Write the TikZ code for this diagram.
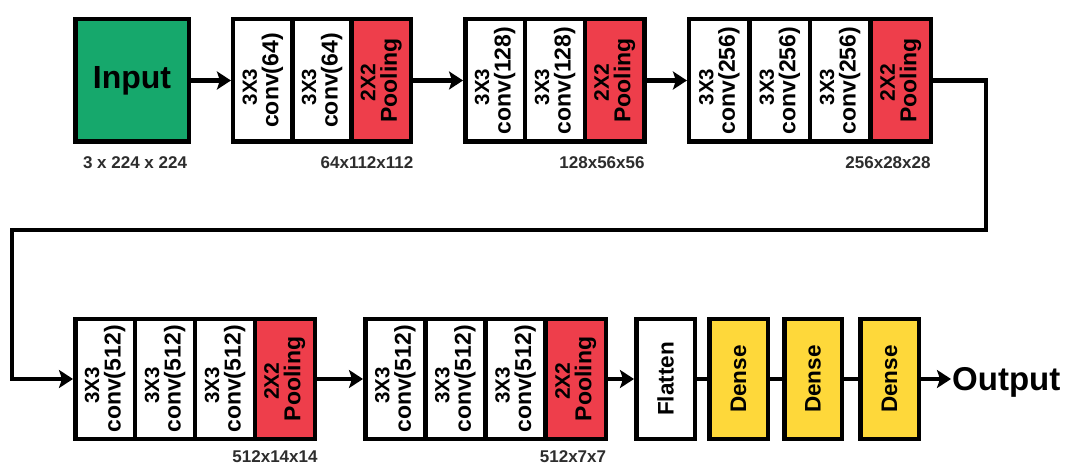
\documentclass[tikz,border=0pt]{standalone}
\usepackage{fontspec}
\setmainfont{Liberation Sans}
\usetikzlibrary{arrows.meta}
\definecolor{ingreen}{RGB}{22,168,108}
\definecolor{poolred}{RGB}{238,62,75}
\definecolor{denseyellow}{RGB}{254,216,58}
\definecolor{labelgray}{RGB}{45,45,45}
\newcommand\vtxt[2]{\rotatebox{90}{\vbox{\bfseries\fontsize{23}{21.5}\selectfont\lineskiplimit=-50pt\halign{\hfil##\hfil\cr #1\cr #2\cr}}}}
\newcommand\vone[1]{\rotatebox{90}{\bfseries\fontsize{22.5}{24}\selectfont #1}}
\newcommand\kk{\fontsize{20.5}{21.5}\selectfont 3X3\hspace{13pt}}
\newcommand\pp{\fontsize{21}{21.5}\selectfont 2X2\hspace{4pt}}
\begin{document}
\begin{tikzpicture}[x=1pt,y=-1pt,
  cell/.style={draw=black,line width=4.5pt,inner sep=0pt,fill=white},
  conv/.style={cell},
  pool/.style={cell,fill=poolred},
  dense/.style={cell,fill=denseyellow},
  toprow/.style={minimum height=122.5pt},
  botrow/.style={minimum height=119.5pt},
  arr/.style={line width=4.5pt,-{Stealth[length=14pt,width=18pt,inset=3pt]}},
  link/.style={line width=4.5pt},
  dimlabel/.style={font=\fontsize{17}{20}\selectfont\bfseries,text=labelgray,inner sep=0pt}]
\useasboundingbox (0,0) rectangle (1071,470);
% input
\node[cell,toprow,fill=ingreen,minimum width=113.5pt,font=\fontsize{32}{36}\selectfont\bfseries] (in) at (132,80.5) {Input};
% block 1
\node[conv,toprow,minimum width=59.2pt] (a1) at (262.8,80.5) {\vtxt{\kk}{conv(64)}};
\node[conv,toprow,minimum width=59.2pt] (a2) at (322,80.5) {\vtxt{\kk}{conv(64)}};
\node[pool,toprow,minimum width=59.2pt] (a3) at (381.2,80.5) {\vtxt{\pp}{Pooling}};
% block 2
\node[conv,toprow,minimum width=59.8pt] (b1) at (495.2,80.5) {\vtxt{\kk}{conv(128)}};
\node[conv,toprow,minimum width=59.8pt] (b2) at (555,80.5) {\vtxt{\kk}{conv(128)}};
\node[pool,toprow,minimum width=59.8pt] (b3) at (614.8,80.5) {\vtxt{\pp}{Pooling}};
% block 3
\node[conv,toprow,minimum width=60.4pt] (c1) at (719.4,80.5) {\vtxt{\kk}{conv(256)}};
\node[conv,toprow,minimum width=60.4pt] (c2) at (779.8,80.5) {\vtxt{\kk}{conv(256)}};
\node[conv,toprow,minimum width=60.4pt] (c3) at (840.2,80.5) {\vtxt{\kk}{conv(256)}};
\node[pool,toprow,minimum width=60.4pt] (c4) at (900.6,80.5) {\vtxt{\pp}{Pooling}};
% block 4
\node[conv,botrow,minimum width=59.9pt] (d1) at (105.2,379) {\vtxt{\kk}{conv(512)}};
\node[conv,botrow,minimum width=59.9pt] (d2) at (165.1,379) {\vtxt{\kk}{conv(512)}};
\node[conv,botrow,minimum width=59.9pt] (d3) at (225,379) {\vtxt{\kk}{conv(512)}};
\node[pool,botrow,minimum width=59.9pt] (d4) at (284.8,379) {\vtxt{\pp}{Pooling}};
% block 5
\node[conv,botrow,minimum width=60.1pt] (e1) at (395.3,379) {\vtxt{\kk}{conv(512)}};
\node[conv,botrow,minimum width=60.1pt] (e2) at (455.4,379) {\vtxt{\kk}{conv(512)}};
\node[conv,botrow,minimum width=60.1pt] (e3) at (515.6,379) {\vtxt{\kk}{conv(512)}};
\node[pool,botrow,minimum width=60.1pt] (e4) at (575.7,379) {\vtxt{\pp}{Pooling}};
% flatten + dense
\node[conv,botrow,minimum width=58.5pt] (f) at (665.5,379) {\vone{Flatten}};
\node[dense,botrow,minimum width=58.5pt] (g1) at (738.5,379) {\vone{Dense}};
\node[dense,botrow,minimum width=57.5pt] (g2) at (813,379) {\vone{Dense}};
\node[dense,botrow,minimum width=58.5pt] (g3) at (889.5,379) {\vone{Dense}};
\node[anchor=west,font=\fontsize{33}{36}\selectfont\bfseries,inner sep=1pt,text depth=0pt] (out) at (951,379) {Output};
% dimension labels
\node[dimlabel] (l1) at (135,163) {3 x 224 x 224};
\node[dimlabel] (l2) at (367,163) {64x112x112};
\node[dimlabel] (l3) at (602,163) {128x56x56};
\node[dimlabel] (l4) at (888,163) {256x28x28};
\node[dimlabel] (l5) at (275,457) {512x14x14};
\node[dimlabel] (l6) at (573,457) {512x7x7};
% connectors
\coordinate (t1) at (986,80.5);
\coordinate (t2) at (986,230);
\coordinate (t3) at (12,230);
\coordinate (t4) at (12,379);
\draw[arr] (in.east) -- (a1.west);
\draw[arr] (a3.east) -- (b1.west);
\draw[arr] (b3.east) -- (c1.west);
\draw[arr] (c4.east) -- (t1) -- (t2) -- (t3) -- (t4) -- (d1.west);
\draw[arr] (d4.east) -- (e1.west);
\draw[arr] (e4.east) -- (f.west);
\draw[link] (f.east) -- (g1.west);
\draw[link] (g1.east) -- (g2.west);
\draw[link] (g2.east) -- (g3.west);
\draw[arr] (g3.east) -- (out.west);
\end{tikzpicture}
\end{document}
